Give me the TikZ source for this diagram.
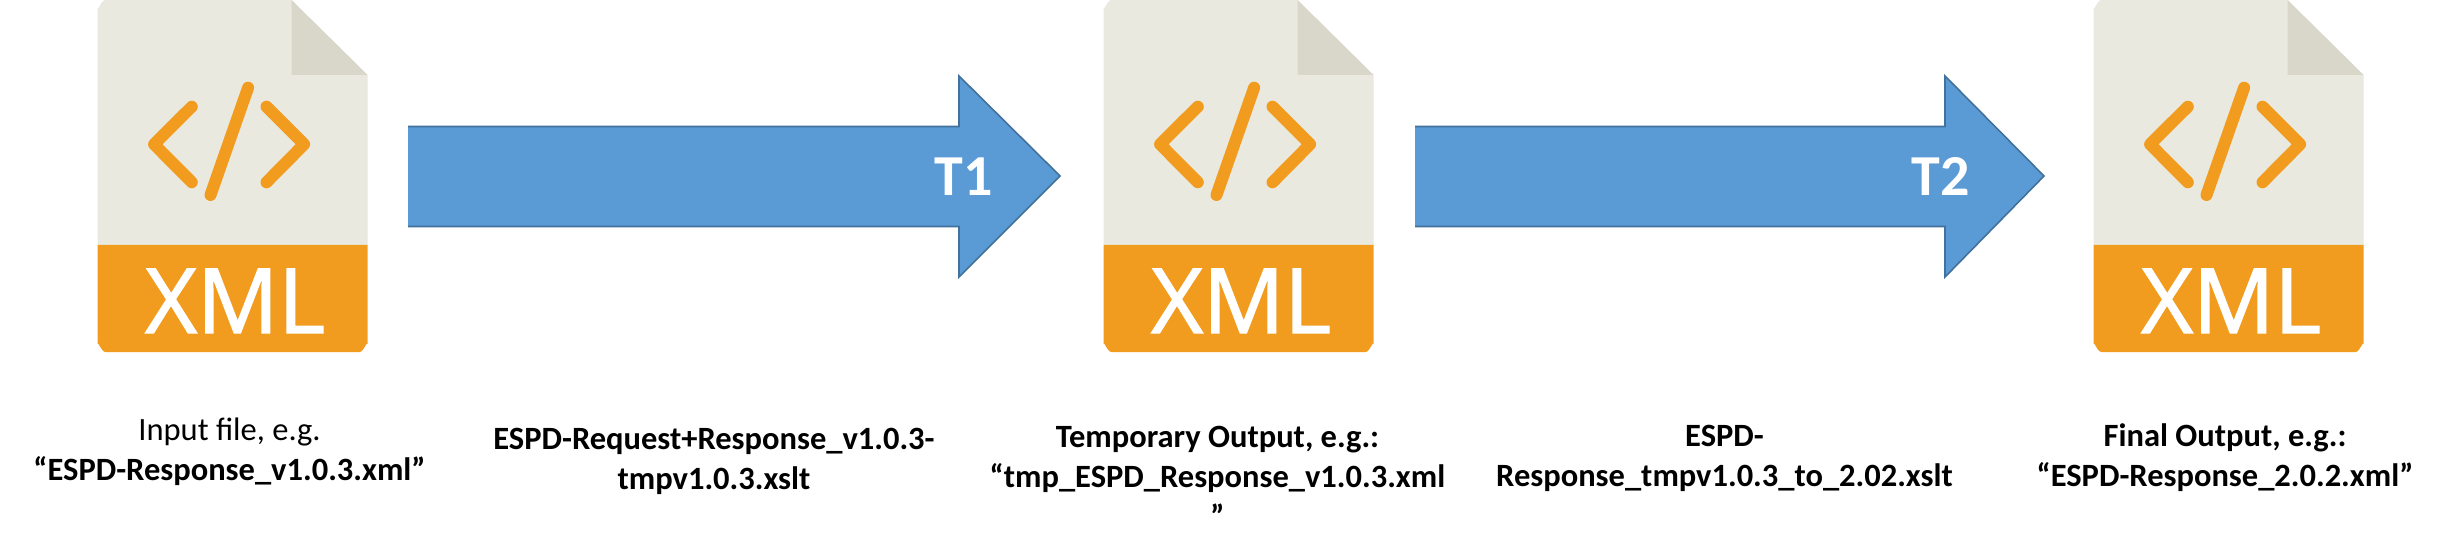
\documentclass[tikz,border=0pt]{standalone}
\usepackage{fontspec}
\setmainfont{Carlito}
\newfontfamily\xmlfont[FakeBold=1.6]{Open Sans}
\definecolor{paper}{HTML}{E9E9E0}
\definecolor{fold}{HTML}{D9D7CA}
\definecolor{orange1}{HTML}{F29C1F}
\definecolor{blue1}{HTML}{5B9BD5}
\definecolor{blue2}{HTML}{41719C}
\tikzset{
 x=1pt,y=-1pt,
 arrowfill/.style={fill=blue1},
 arrowedge/.style={draw=blue2,line width=1.6pt,line join=miter},
 glyph/.style={draw=orange1,line width=12pt,line cap=round,line join=round},
 lab/.style={align=center,font=\fontsize{32.5}{40}\selectfont,inner sep=0pt,anchor=base},
 tlab/.style={text=white,font=\bfseries\fontsize{58}{58}\selectfont,inner sep=0pt,anchor=base},
 xmllab/.style={text=white,font=\xmlfont\fontsize{90}{90}\selectfont,inner sep=0pt,anchor=base},
}
\begin{document}
\begin{tikzpicture}
\useasboundingbox (0,0) rectangle (2455,556);
\fill[white] (0,0) rectangle (2455,556);
\foreach \n/\ix in {a/97.5,b/1103.5,c/2093.5}{
 \begin{scope}[shift={(\ix,0)}]
 \fill[paper] (0,8) to[out=-90,in=180] (8,0) -- (194,0) -- (270,75) -- (270,245) -- (0,245) -- cycle;
 \fill[fold] (194,0) -- (270,75) -- (194,75) -- cycle;
 \fill[orange1] (0,245) -- (270,245) -- (270,344) to[out=90,in=0] (262,352) -- (8,352) to[out=180,in=90] (0,344) -- cycle;
 \draw[glyph] (94.3,106.7) -- (56.6,144.3) -- (94.3,182.3);
 \draw[glyph] (150.6,87.7) -- (113,195);
 \draw[glyph] (169,106.7) -- (206.6,144.3) -- (169,182.3);
 \node[xmllab] (\n) at (137.6,333) {XML};
 \end{scope}}
\fill[arrowfill] (408,126.5) -- (959,126.5) -- (959,76) -- (1060,176) -- (959,277) -- (959,226.5) -- (408,226.5) -- cycle;
\draw[arrowedge] (408,126.5) -- (959,126.5) -- (959,76) -- (1060,176) -- (959,277) -- (959,226.5) -- (408,226.5);
\node[tlab] (t1) at (964,196) {T1};
\fill[arrowfill] (1415,126.5) -- (1945,126.5) -- (1945,76) -- (2044,176) -- (1945,277) -- (1945,226.5) -- (1415,226.5) -- cycle;
\draw[arrowedge] (1415,126.5) -- (1945,126.5) -- (1945,76) -- (2044,176) -- (1945,277) -- (1945,226.5) -- (1415,226.5);
\node[tlab] (t2) at (1941,196) {T2};
\node[lab] (l1) at (229.5,480) {Input file, e.g.\\\textbf{“ESPD-Response\_v1.0.3.xml”}};
\node[lab] (l2) at (714,489) {\textbf{ESPD-Request+Response\_v1.0.3-}\\\textbf{tmpv1.0.3.xslt}};
\node[lab] (l3) at (1217.5,527) {\textbf{Temporary Output, e.g.:}\\\textbf{“tmp\_ESPD\_Response\_v1.0.3.xml}\\\textbf{”}};
\node[lab] (l4) at (1724.5,486) {\textbf{ESPD-}\\\textbf{Response\_tmpv1.0.3\_to\_2.02.xslt}};
\node[lab] (l5) at (2225,486) {\textbf{Final Output, e.g.:}\\\textbf{“ESPD-Response\_2.0.2.xml”}};
\end{tikzpicture}
\end{document}
